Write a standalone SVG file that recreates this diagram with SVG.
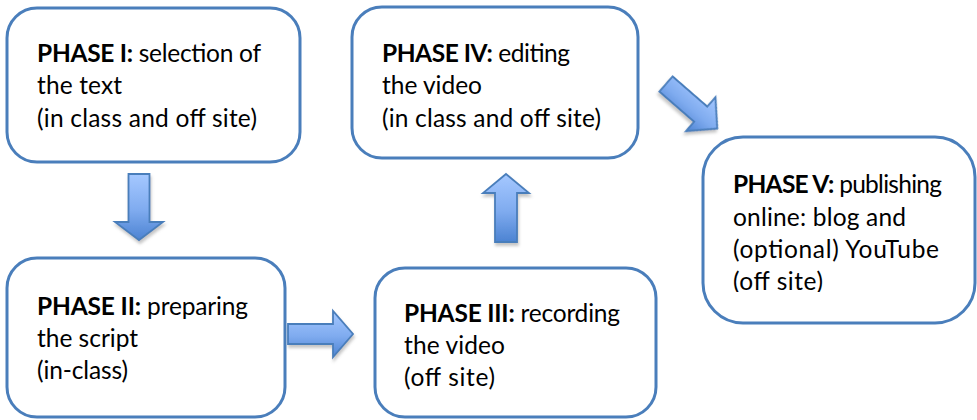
<svg xmlns="http://www.w3.org/2000/svg" width="977" height="420" viewBox="0 0 977 420">
<style>
.box{fill:#ffffff;stroke:#4a7ebb;stroke-width:3}
.t{font-family:Lato,"Liberation Sans",sans-serif;font-size:24.5px;fill:#000000}
.b{font-weight:bold}
.arr{fill:url(#ag);stroke:#4a7ebb;stroke-width:1.8;stroke-linejoin:miter;filter:url(#sh)}
</style>
<defs>
<linearGradient id="ag" x1="0" y1="0" x2="0" y2="1">
<stop offset="0" stop-color="#a5c8ff"/>
<stop offset="0.55" stop-color="#7fabef"/>
<stop offset="1" stop-color="#4c83d2"/>
</linearGradient>
<filter id="sh" x="-30%" y="-30%" width="160%" height="160%">
<feGaussianBlur in="SourceAlpha" stdDeviation="1.5" result="b"/>
<feOffset in="b" dx="1" dy="3" result="o"/>
<feFlood flood-color="#808080" flood-opacity="0.45"/>
<feComposite in2="o" operator="in" result="s"/>
<feMerge><feMergeNode in="s"/><feMergeNode in="SourceGraphic"/></feMerge>
</filter>
<clipPath id="c5"><rect x="703" y="137" width="274" height="155"/></clipPath>
</defs>
<rect width="977" height="420" fill="#ffffff"/>
<g id="connectors">
<path class="arr" d="M128.5,174 H149.5 V222 H163 L139,240 L115,222 H128.5 Z"/>
<path class="arr" d="M288,324 H333 V311 L353,334 L333,357 V344 H288 Z"/>
<path class="arr" d="M506,174 L529,193 H517 V242 H495 V193 H483 Z"/>
<path class="arr" transform="translate(666,84) rotate(41)" d="M0,-10 H46 V-22.5 L68,0 L46,22.5 V10 H0 Z"/>
</g>
<g id="phase1">
<rect class="box" x="7" y="8" width="293" height="154" rx="30"/>
<text class="t" x="37" y="62" textLength="224" lengthAdjust="spacing"><tspan class="b">PHASE I:</tspan> selection of</text>
<text class="t" x="37" y="94" textLength="85" lengthAdjust="spacing">the text</text>
<text class="t" x="37" y="127" textLength="220" lengthAdjust="spacing">(in class and off site)</text>
</g>
<g id="phase2">
<rect class="box" x="7" y="258" width="278" height="159" rx="30"/>
<text class="t" x="37" y="315" textLength="211" lengthAdjust="spacing"><tspan class="b">PHASE II:</tspan> preparing</text>
<text class="t" x="37" y="347" textLength="101" lengthAdjust="spacing">the script</text>
<text class="t" x="37" y="379" textLength="91" lengthAdjust="spacing">(in-class)</text>
</g>
<g id="phase3">
<rect class="box" x="375" y="268" width="281" height="149" rx="30"/>
<text class="t" x="404" y="322" textLength="216" lengthAdjust="spacing"><tspan class="b">PHASE III:</tspan> recording</text>
<text class="t" x="404" y="354" textLength="101" lengthAdjust="spacing">the video</text>
<text class="t" x="404" y="386" textLength="91" lengthAdjust="spacing">(off site)</text>
</g>
<g id="phase4">
<rect class="box" x="352" y="7" width="286" height="151" rx="30"/>
<text class="t" x="382" y="62" textLength="188" lengthAdjust="spacing"><tspan class="b">PHASE IV:</tspan> editing</text>
<text class="t" x="382" y="94" textLength="100" lengthAdjust="spacing">the video</text>
<text class="t" x="382" y="127" textLength="219" lengthAdjust="spacing">(in class and off site)</text>
</g>
<g id="phase5">
<rect class="box" x="703" y="137" width="272" height="186" rx="40"/>
<g clip-path="url(#c5)">
<text class="t" x="733" y="193" textLength="209" lengthAdjust="spacing"><tspan class="b">PHASE V:</tspan> publishing</text>
<text class="t" x="733" y="226" textLength="173" lengthAdjust="spacing">online: blog and</text>
<text class="t" x="733" y="258" textLength="206" lengthAdjust="spacing">(optional) YouTube</text>
<text class="t" x="733" y="290" textLength="90" lengthAdjust="spacing">(off site)</text>
</g>
</g>
</svg>
